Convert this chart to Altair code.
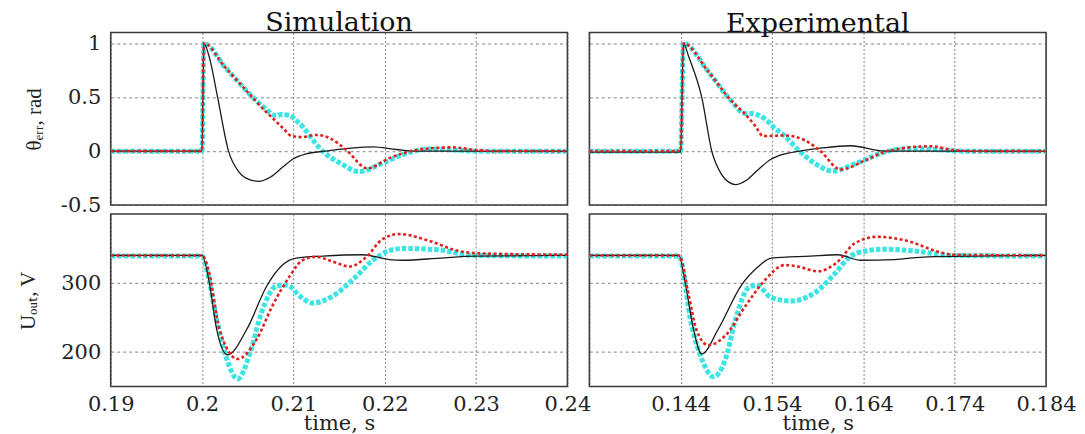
import altair as alt
import pandas as pd

# ---------------- data ----------------
# Simulation, theta_err [rad]
sim_th_black_t = [0.19, 0.19999, 0.2002, 0.2008, 0.2017, 0.2029, 0.2041, 0.2052, 0.2062, 0.2075, 0.2088, 0.2100, 0.2114, 0.2135, 0.216, 0.2187, 0.2213, 0.2235, 0.24]
sim_th_black_v = [0, 0, 1, 0.87, 0.5, 0, -0.2, -0.265, -0.28, -0.24, -0.15, -0.07, -0.025, 0.0, 0.025, 0.04, 0.015, 0, 0]
sim_th_red_t = [0.19, 0.19999, 0.2002, 0.2025, 0.204, 0.2053, 0.2067, 0.2078, 0.2089, 0.2098, 0.2109, 0.2125, 0.214, 0.2158, 0.2181, 0.2205, 0.2235, 0.2274, 0.230, 0.232, 0.24]
sim_th_red_v = [0, 0, 1, 0.78, 0.64, 0.52, 0.39, 0.30, 0.21, 0.14, 0.13, 0.15, 0.12, 0.01, -0.16, -0.065, 0.01, 0.035, 0.01, 0, 0]
sim_th_cyan_t = [0.19, 0.19999, 0.2002, 0.2025, 0.204, 0.2053, 0.2070, 0.2080, 0.2087, 0.2096, 0.2105, 0.2112, 0.2118, 0.2132, 0.2151, 0.2172, 0.2198, 0.2224, 0.2249, 0.2277, 0.230, 0.24]
sim_th_cyan_v = [0, 0, 1, 0.78, 0.64, 0.52, 0.39, 0.33, 0.34, 0.33, 0.27, 0.21, 0.14, 0, -0.11, -0.19, -0.11, -0.02, 0.02, 0.01, 0, 0]

# Simulation, U_out [V]
sim_u_black_t = [0.19, 0.2, 0.2008, 0.2016, 0.2028, 0.2049, 0.2071, 0.2088, 0.2103, 0.2132, 0.2176, 0.2205, 0.222, 0.226, 0.2298, 0.24]
sim_u_black_v = [340, 340, 300, 233, 196, 233, 296, 326, 336, 339, 341, 334, 333, 336, 339, 340]
sim_u_red_t = [0.19, 0.2, 0.2008, 0.2019, 0.2039, 0.206, 0.2077, 0.2096, 0.211, 0.2125, 0.2143, 0.2162, 0.218, 0.2198, 0.2216, 0.2249, 0.2279, 0.2304, 0.24]
sim_u_red_v = [340, 340, 314, 233, 190, 219, 267, 310, 333, 338, 331, 324, 338, 364, 371, 361, 347, 343, 341]
sim_u_cyan_t = [0.19, 0.2, 0.2005, 0.2016, 0.2027, 0.2039, 0.2052, 0.2065, 0.2082, 0.2093, 0.2107, 0.2121, 0.2143, 0.2169, 0.2187, 0.2205, 0.222, 0.226, 0.2296, 0.24]
sim_u_cyan_v = [339, 339, 320, 247, 190, 161, 196, 257, 296, 297, 281, 271, 281, 310, 333, 347, 350, 348, 340, 339]

# Experimental, theta_err [rad]
exp_th_black_t = [0.134, 0.14399, 0.1443, 0.1449, 0.1463, 0.1474, 0.1485, 0.1493, 0.150, 0.1512, 0.1525, 0.1538, 0.1552, 0.1570, 0.1595, 0.1626, 0.1663, 0.184]
exp_th_black_v = [-0.01, -0.01, 1, 0.87, 0.5, 0, -0.22, -0.29, -0.31, -0.27, -0.17, -0.08, -0.03, 0.0, 0.03, 0.05, 0, 0]
exp_th_red_t = [0.134, 0.14399, 0.1443, 0.1470, 0.1495, 0.1512, 0.1522, 0.153, 0.1554, 0.1576, 0.1593, 0.1615, 0.1641, 0.1666, 0.1713, 0.1739, 0.176, 0.184]
exp_th_red_v = [0, 0, 1, 0.74, 0.47, 0.33, 0.23, 0.14, 0.145, 0.1, 0, -0.17, -0.09, 0, 0.045, 0.01, 0, 0]
exp_th_cyan_t = [0.134, 0.14399, 0.1443, 0.1470, 0.1495, 0.1510, 0.1517, 0.1532, 0.1542, 0.1554, 0.157, 0.1588, 0.1606, 0.1633, 0.1663, 0.1691, 0.1728, 0.175, 0.184]
exp_th_cyan_v = [0, 0, 1, 0.74, 0.47, 0.35, 0.35, 0.30, 0.22, 0.14, 0, -0.12, -0.185, -0.11, -0.01, 0.025, 0.01, 0, 0]

# Experimental, U_out [V]
exp_u_black_t = [0.134, 0.1438, 0.1445, 0.1454, 0.1463, 0.1481, 0.1506, 0.1525, 0.1539, 0.1582, 0.1612, 0.1637, 0.1674, 0.171, 0.184]
exp_u_black_v = [340, 340, 300, 233, 197, 233, 296, 324, 336, 339, 341, 333, 334, 338, 340]
exp_u_red_t = [0.134, 0.1438, 0.1449, 0.1457, 0.147, 0.1489, 0.1511, 0.1532, 0.1554, 0.1568, 0.159, 0.1612, 0.163, 0.1655, 0.1691, 0.172, 0.1739, 0.184]
exp_u_red_v = [340, 340, 281, 233, 210, 224, 267, 304, 326, 324, 317, 331, 357, 367, 360, 346, 341, 340]
exp_u_cyan_t = [0.134, 0.1438, 0.1452, 0.1463, 0.1476, 0.1489, 0.150, 0.1514, 0.1523, 0.1539, 0.1561, 0.1587, 0.1609, 0.1626, 0.1645, 0.1663, 0.1699, 0.1735, 0.184]
exp_u_cyan_v = [339, 339, 238, 190, 164, 190, 247, 293, 297, 279, 274, 286, 314, 339, 347, 349, 346, 340, 339]

sim_ticks = [0.19, 0.2, 0.21, 0.22, 0.23, 0.24]
exp_ticks = [0.134, 0.144, 0.154, 0.164, 0.174, 0.184]
exp_tick_labels = [0.144, 0.154, 0.164, 0.174, 0.184]
th_ticks = [-0.5, 0, 0.5, 1]
u_ticks = [200, 300]

WIDE = "DejaVu Serif"        # horizontal text (reference is horizontally stretched)
SERIF = "Liberation Serif"   # rotated y titles
W, H = 458, 173

STYLES = {
    "cyan": dict(color="#3ce4e4", strokeWidth=5, strokeDash=[4.5, 2]),
    "black": dict(color="#1a1a1a", strokeWidth=1.3),
    "red": dict(color="#e0201e", strokeWidth=2.6, strokeDash=[3, 2.5]),
}

GRID = dict(grid=True, gridColor="#555", gridWidth=0.8, gridOpacity=0.9, ticks=False, domain=False)


def panel(series, xdom, ydom, xticks, yticks, xlabels, ylabel, ytpad, title=None):
    if xlabels is not None:
        xaxis = alt.Axis(values=xticks, labelExpr="indexof(%s, datum.value) >= 0 ? '' + datum.value : ''" % str(xlabels),
                         labelFont=WIDE, labelFontSize=21, labelColor="#222",
                         title="time, s", titleFont=WIDE, titleFontSize=21, titleFontWeight="normal", titleColor="#222",
                         titlePadding=-2, labelPadding=7, labelFlush=False, labelOverlap=False, labelBound=False,
                         gridDash=[2, 2], **GRID)
    else:
        xaxis = alt.Axis(values=xticks, labels=False, title=None, gridDash=[2, 2], **GRID)
    if ylabel is not None:
        yaxis = alt.Axis(values=yticks, labelExpr="'' + datum.value", title=ylabel,
                         labelFont=WIDE, labelFontSize=21, labelColor="#222",
                         titleFont=SERIF, titleFontSize=21, titleFontWeight="normal", titleColor="#222",
                         titlePadding=ytpad, labelPadding=10, gridDash=[3, 3], **GRID)
    else:
        yaxis = alt.Axis(values=yticks, labels=False, title=None, gridDash=[3, 3], **GRID)
    x = alt.X("t:Q", scale=alt.Scale(domain=xdom, nice=False, zero=False), axis=xaxis)
    y = alt.Y("v:Q", scale=alt.Scale(domain=ydom, nice=False, zero=False), axis=yaxis)
    layers = []
    for name, t, v in series:
        df = pd.DataFrame({"t": t, "v": v})
        layers.append(alt.Chart(df).mark_line(interpolate="monotone", clip=True, **STYLES[name]).encode(x=x, y=y))
    ch = alt.layer(*layers).properties(width=W, height=H)
    if title:
        ch = ch.properties(title=alt.TitleParams(title, font=WIDE, fontSize=27, fontWeight="normal",
                                                 anchor="middle", offset=-5, color="#111"))
    return ch


tl = panel([("cyan", sim_th_cyan_t, sim_th_cyan_v), ("black", sim_th_black_t, sim_th_black_v), ("red", sim_th_red_t, sim_th_red_v)],
           [0.19, 0.24], [-0.5, 1.1], sim_ticks, th_ticks, None, "θₑᵣᵣ, rad", 16, "Simulation")
tr = panel([("cyan", exp_th_cyan_t, exp_th_cyan_v), ("black", exp_th_black_t, exp_th_black_v), ("red", exp_th_red_t, exp_th_red_v)],
           [0.134, 0.184], [-0.5, 1.1], exp_ticks, th_ticks, None, None, 0, "Experimental")
bl = panel([("cyan", sim_u_cyan_t, sim_u_cyan_v), ("black", sim_u_black_t, sim_u_black_v), ("red", sim_u_red_t, sim_u_red_v)],
           [0.19, 0.24], [150, 400], sim_ticks, u_ticks, sim_ticks, "Uₒᵤₜ, V", 22)
br = panel([("cyan", exp_u_cyan_t, exp_u_cyan_v), ("black", exp_u_black_t, exp_u_black_v), ("red", exp_u_red_t, exp_u_red_v)],
           [0.134, 0.184], [150, 400], exp_ticks, u_ticks, exp_tick_labels, None, 0)

chart = alt.concat(tl, tr, bl, br, columns=2, spacing=alt.RowColnumber(row=9, column=22), bounds="flush").properties(
    padding={"left": 9, "top": 0, "right": 0, "bottom": 0}, background="white"
).configure_view(stroke="#3a3a3a", strokeWidth=1.6)

chart.save("out.html", embed_options={"renderer": "svg", "actions": False})
